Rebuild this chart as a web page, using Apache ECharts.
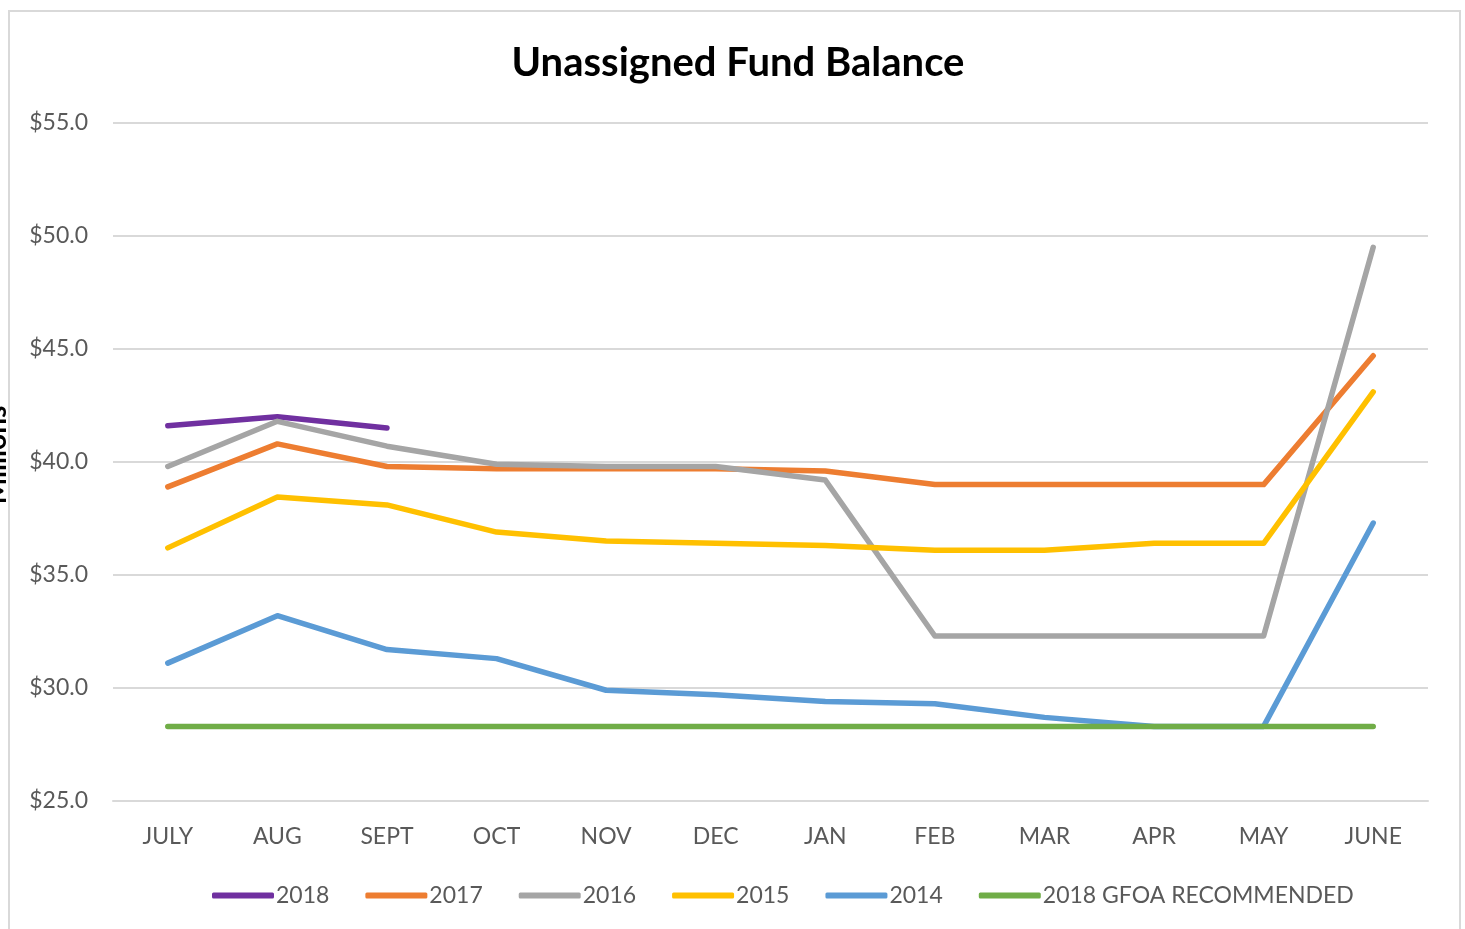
<!DOCTYPE html>
<html>
<head>
<meta charset="utf-8">
<style>
  html, body { margin: 0; padding: 0; background: #fff; }
  #chart { width: 1465px; height: 929px; }
</style>
<script src="https://cdn.jsdelivr.net/npm/echarts@6/dist/echarts.min.js"></script>
</head>
<body>
<div id="chart"></div>
<script>
const months = ["JULY", "AUG", "SEPT", "OCT", "NOV", "DEC", "JAN", "FEB", "MAR", "APR", "MAY", "JUNE"];

const fy2018 = [41.6, 42.0, 41.5];
const fy2017 = [38.9, 40.8, 39.8, 39.7, 39.7, 39.7, 39.6, 39.0, 39.0, 39.0, 39.0, 44.7];
const fy2016 = [39.8, 41.8, 40.7, 39.9, 39.8, 39.8, 39.2, 32.3, 32.3, 32.3, 32.3, 49.5];
const fy2015 = [36.2, 38.45, 38.1, 36.9, 36.5, 36.4, 36.3, 36.1, 36.1, 36.4, 36.4, 43.1];
const fy2014 = [31.1, 33.2, 31.7, 31.3, 29.9, 29.7, 29.4, 29.3, 28.7, 28.3, 28.3, 37.3];
const gfoa = [28.3, 28.3, 28.3, 28.3, 28.3, 28.3, 28.3, 28.3, 28.3, 28.3, 28.3, 28.3];

const seriesNames = ["2018", "2017", "2016", "2015", "2014", "2018 GFOA RECOMMENDED"];
const seriesData = [fy2018, fy2017, fy2016, fy2015, fy2014, gfoa];
const colors = ["#7030A0", "#ED7D31", "#A5A5A5", "#FFC000", "#5B9BD5", "#70AD47"];

const font = "Lato, 'Open Sans', sans-serif";

const initChart = () => {
    const chart = echarts.init(document.getElementById("chart"));

    const series = seriesNames.map((name, i) => ({
        name: name,
        type: "line",
        data: seriesData[i],
        showSymbol: false,
        symbol: "none",
        smooth: false,
        lineStyle: { width: 5.5, color: colors[i], cap: "round", join: "round" },
        itemStyle: { color: colors[i] }
    }));

    chart.setOption({
        animation: false,
        backgroundColor: "#fff",
        color: colors,
        title: {
            text: "Unassigned Fund Balance",
            left: 733,
            textAlign: "center",
            top: 38,
            textStyle: { fontFamily: font, fontWeight: "bold", fontSize: 40, color: "#000" }
        },
        graphic: [{
            type: "rect",
            shape: { x: 9, y: 11, width: 1451, height: 940 },
            style: { fill: "none", stroke: "#d9d9d9", lineWidth: 2 },
            silent: true
        }, {
            // axis title, mostly clipped off the left edge as in the original
            type: "text",
            x: -3,
            y: 455,
            rotation: Math.PI / 2,
            style: {
                text: "Millions",
                fontFamily: font,
                fontWeight: "bold",
                fontSize: 28,
                fill: "#000",
                align: "center",
                verticalAlign: "middle"
            },
            silent: true
        }],
        legend: {
            left: 207,
            top: 879,
            itemWidth: 62,
            itemHeight: 6,
            itemGap: 36,
            icon: "roundRect",
            textStyle: { fontFamily: font, fontSize: 23, color: "#595959", padding: [0, 0, 0, -3] },
            data: seriesNames
        },
        grid: { left: 113, right: 37, top: 123, bottom: 128, containLabel: false, outerBoundsMode: "none" },
        xAxis: {
            type: "category",
            data: months,
            boundaryGap: true,
            axisLine: { show: true, lineStyle: { color: "#d9d9d9", width: 2 } },
            axisTick: { show: false },
            axisLabel: { fontFamily: font, fontSize: 23, color: "#595959", margin: 24 }
        },
        yAxis: {
            type: "value",
            min: 25,
            max: 55,
            interval: 5,
            axisLine: { show: false },
            axisTick: { show: false },
            splitLine: { lineStyle: { color: "#d9d9d9", width: 2 } },
            axisLabel: {
                fontFamily: font,
                fontSize: 23,
                color: "#595959",
                margin: 25,
                formatter: (v) => "$" + v.toFixed(1)
            }
        },
        series: series
    });
};

window.addEventListener("load", () => {
    initChart();
});
</script>
</body>
</html>
